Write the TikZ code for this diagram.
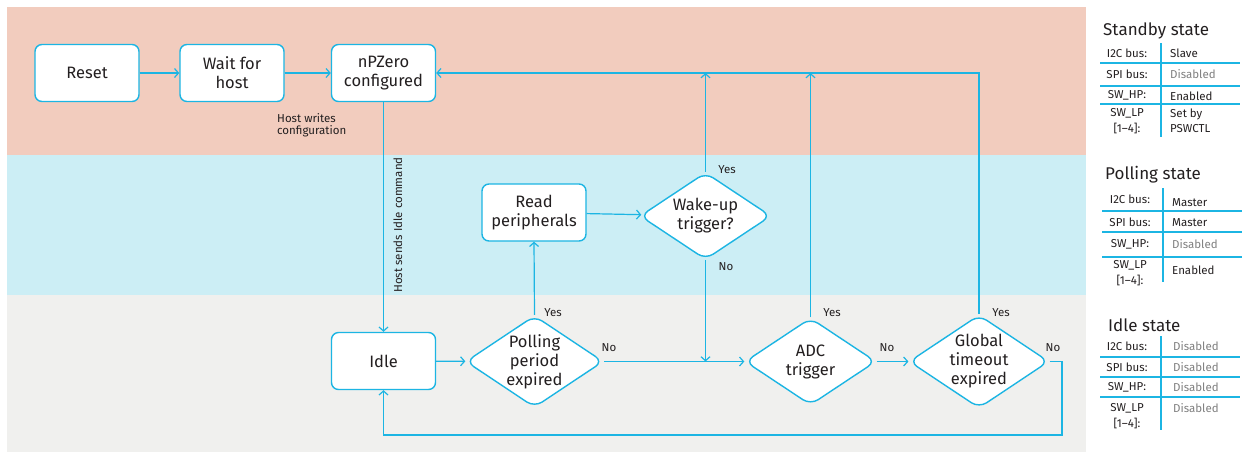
\documentclass[tikz,border=0pt]{standalone}
\usepackage{fontspec}
\setmainfont{Fira Sans}
\usetikzlibrary{shapes.geometric,arrows.meta}
\definecolor{lc}{HTML}{1CB5E3}
\definecolor{salmon}{HTML}{F2CCBE}
\definecolor{cyanbg}{HTML}{CCEEF5}
\definecolor{greybg}{HTML}{F0F0EE}
\definecolor{txt}{HTML}{231F20}
\definecolor{dis}{HTML}{7F7F7F}
\tikzset{
  box/.style={draw=lc, fill=white, rounded corners=7pt, line width=1.4pt, minimum width=104pt, minimum height=57pt, align=center, font=\fontsize{16.5}{19}\selectfont, text=txt},
  dia/.style={diamond, draw=lc, fill=white, rounded corners=9pt, line width=1.4pt, minimum width=131pt, minimum height=87pt, inner sep=0pt, aspect=1.5, align=center, font=\fontsize{16.5}{19}\selectfont, text=txt},
  arr/.style={draw=lc, line width=1.2pt, -{Straight Barb[length=4pt,width=9pt]}},
  ln/.style={draw=lc, line width=1.2pt},
  lbl/.style={font=\fontsize{11.5}{12.5}\selectfont, text=txt, inner sep=0pt},
  ttl/.style={font=\fontsize{17}{19}\selectfont, text=txt, anchor=west, inner sep=0pt},
  tl/.style={font=\fontsize{11.5}{15.5}\selectfont, text=txt, align=center, inner sep=0pt},
  tv/.style={font=\fontsize{11.5}{15.5}\selectfont, text=txt, anchor=west, align=left, inner sep=0pt},
  tg/.style={tv, text=dis},
}
\begin{document}
\begin{tikzpicture}[x=1pt,y=-1pt]
\useasboundingbox (0,0) rectangle (1244,456);
% bands
\fill[salmon] (7,7) rectangle (1086,155);
\fill[cyanbg] (7,155) rectangle (1086,295);
\fill[greybg] (7,295) rectangle (1086,452);

% nodes
\node[box] (reset) at (87,73) {Reset};
\node[box] (wait) at (232,73) {Wait for\\host};
\node[box] (npz) at (383.5,73) {nPZero\\configured};
\node[box] (read) at (534,212.5) {Read\\peripherals};
\node[dia] (wake) at (705.5,216) {Wake-up\\trigger?};
\node[box] (idle) at (383.5,361) {Idle};
\node[dia] (poll) at (534.5,361.5) {Polling\\period\\expired};
\node[dia] (adc) at (810.5,361.5) {ADC\\trigger};
\node[dia] (glob) at (979,361.5) {Global\\timeout\\expired};

\coordinate (loop) at (1062,435);

% connectors
\draw[arr] (reset) -- (wait);
\draw[arr] (wait) -- (npz);
\draw[arr] (npz) -- (idle);
\draw[arr] (idle) -- (poll);
\draw[arr] (poll.north) -- (read.south);
\draw[arr] (read) -- (wake);
\draw[arr] (wake.north) -- (wake.north |- npz.east);
\draw[arr] (wake.south) -- (wake.south |- poll.east);
\draw[arr] (poll.east) -- (adc.west);
\draw[arr] (adc.north) -- (adc.north |- npz.east);
\draw[arr] (adc.east) -- (glob.west);
\draw[arr] (glob.north) |- (npz.east);
\draw[arr] (glob.east) -| (loop) -| (idle.south);

% labels
\node[lbl, anchor=north west, align=left] (hwc) at (277,113) {Host writes\\configuration};
\node[lbl, rotate=90] (hsic) at (398,225) {Host sends Idle command};
\node[lbl] (y1) at (553,313) {Yes};
\node[lbl] (n1) at (609,348) {No};
\node[lbl] (y2) at (727,170) {Yes};
\node[lbl] (n2) at (726,267) {No};
\node[lbl] (y3) at (832,313) {Yes};
\node[lbl] (n3) at (887,348) {No};
\node[lbl] (y4) at (1001,313) {Yes};
\node[lbl] (n4) at (1053,348) {No};

% Standby table
\node[ttl] (t1) at (1103,31) {Standby state};
\draw[ln] (1161,43) -- (1161,137);
\foreach \yy in {63,86,104} \draw[ln] (1100,\yy) -- (1240,\yy);
\node[tl] at (1127,53) {I2C bus:};
\node[tl] at (1127,74) {SPI bus:};
\node[tl] at (1127,95) {SW\_HP:};
\node[tl] at (1127,121) {SW\_LP\\{[}1–4{]}:};
\node[tv] at (1170,53) {Slave};
\node[tg] at (1170,74) {Disabled};
\node[tv] at (1170,96) {Enabled};
\node[tv] at (1170,121) {Set by\\PSWCTL};

% Polling table
\node[ttl] (t2) at (1105,175) {Polling state};
\draw[ln] (1163,188) -- (1163,282);
\foreach \yy in {211,232,257} \draw[ln] (1102,\yy) -- (1242,\yy);
\node[tl] at (1130,199) {I2C bus:};
\node[tl] at (1130,222) {SPI bus:};
\node[tl] at (1130,244) {SW\_HP:};
\node[tl] at (1130,273) {SW\_LP\\{[}1–4{]}:};
\node[tv] at (1172,203) {Master};
\node[tv] at (1172,223) {Master};
\node[tg] at (1172,244) {Disabled};
\node[tv] at (1172,270) {Enabled};

% Idle table
\node[ttl] (t3) at (1108,325) {Idle state};
\draw[ln] (1161,336) -- (1161,430);
\foreach \yy in {357,377,397} \draw[ln] (1100,\yy) -- (1240,\yy);
\node[tl] at (1127,346) {I2C bus:};
\node[tl] at (1127,367) {SPI bus:};
\node[tl] at (1127,387) {SW\_HP:};
\node[tl] at (1127,416) {SW\_LP\\{[}1–4{]}:};
\node[tg] at (1173,346) {Disabled};
\node[tg] at (1173,367) {Disabled};
\node[tg] at (1173,387) {Disabled};
\node[tg] at (1173,408) {Disabled};
\end{tikzpicture}
\end{document}
